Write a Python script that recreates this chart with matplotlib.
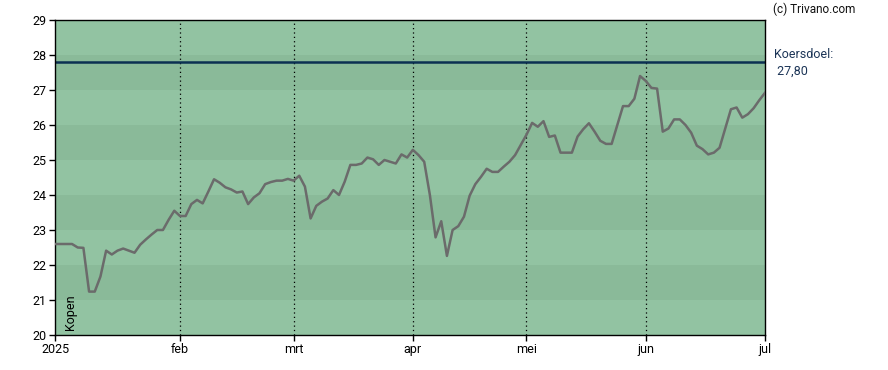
import numpy as np
import pandas as pd
import matplotlib
matplotlib.use("Agg")
import matplotlib.pyplot as plt

# Trading days (Euronext) Jan 2 2025 .. Jul 1 2025
holidays = ["2025-01-01", "2025-04-18", "2025-04-21", "2025-05-01"]
dates = [d for d in pd.bdate_range("2025-01-02", "2025-07-01") if d.strftime("%Y-%m-%d") not in holidays]

prices = [
    22.6, 22.6, 22.6, 22.6, 22.5, 22.49, 21.24, 21.24, 21.67, 22.41,
    22.3, 22.41, 22.47, 22.41, 22.35, 22.58, 22.73, 22.87, 23.0, 23.0,
    23.29, 23.55, 23.4, 23.4, 23.74, 23.86, 23.76, 24.1, 24.45, 24.35,
    24.22, 24.16, 24.07, 24.1, 23.74, 23.93, 24.05, 24.31, 24.37, 24.41,
    24.41, 24.46, 24.41, 24.55, 24.24, 23.33, 23.69, 23.81, 23.9, 24.14,
    24.0, 24.38, 24.86, 24.86, 24.9, 25.07, 25.02, 24.86, 25.0, 24.95,
    24.9, 25.16, 25.07, 25.29, 25.14, 24.95, 24.0, 22.79, 23.25, 22.26,
    23.0, 23.11, 23.38, 23.98, 24.31, 24.52, 24.75, 24.66, 24.66, 24.81,
    24.95, 25.14, 25.43, 25.72, 26.06, 25.95, 26.11, 25.66, 25.7, 25.21,
    25.21, 25.21, 25.67, 25.88, 26.05, 25.81, 25.55, 25.46, 25.46, 26.0,
    26.54, 26.54, 26.75, 27.4, 27.26, 27.06, 27.04, 25.81, 25.9, 26.16,
    26.16, 26.0, 25.78, 25.41, 25.31, 25.16, 25.21, 25.35, 25.9, 26.45,
    26.5, 26.21, 26.31, 26.48, 26.71, 26.92,
]
month_labels = ["2025", "feb", "mrt", "apr", "mei", "jun", "jul"]
target = 27.80
target_label = "Koersdoel:\n 27,80"
advice = "Kopen"
yticks = list(range(20, 30))

plt.rcParams["font.family"] = ["Roboto", "DejaVu Sans"]

fig = plt.figure(figsize=(8.88, 3.70), dpi=100)
ax = fig.add_axes([55/888, 35/370, 710/888, 315/370])

x = np.arange(len(prices))
# first trading day index of each month
months = [d.month for d in dates]
tick_pos = [0] + [i for i in range(1, len(dates)) if months[i] != months[i-1]]

# background bands
light, dark = "#92C3A2", "#8ABA99"
for k, lo in enumerate(range(20, 29)):
    ax.axhspan(lo, lo + 1, color=light if (lo % 2 == 0) else dark, lw=0, zorder=0)

for p in tick_pos[1:-1]:
    ax.axvline(p, color="black", lw=0.9, ls=(0, (1, 2.5)), zorder=1)

ax.axhline(target, color="#0B3052", lw=1.8, zorder=2)
ax.plot(x, prices, color="#6B6B6B", lw=1.8, zorder=3, solid_joinstyle="round")

ax.set_xlim(0, len(prices) - 1)
ax.set_ylim(20, 29)
ax.set_yticks(yticks)
ax.set_yticklabels([str(v) for v in yticks])
ax.set_xticks(tick_pos)
ax.set_xticklabels(month_labels)
ax.tick_params(axis="both", labelsize=9, length=4, width=1, colors="black", pad=2)
for s in ax.spines.values():
    s.set_color("black")
    s.set_linewidth(1)

ax.text(0.012, 0.015, advice, rotation=90, transform=ax.transAxes,
        fontsize=9, ha="left", va="bottom", color="black")

fig.text(773/888, 1 - 9/370, "(c) Trivano.com", fontsize=8.5, ha="left", va="center", color="#111111")
fig.text(774/888, 1 - 63/370, target_label, fontsize=9, ha="left", va="center",
         color="#1C3557", linespacing=1.35)

fig.savefig("out.png", dpi=100)
